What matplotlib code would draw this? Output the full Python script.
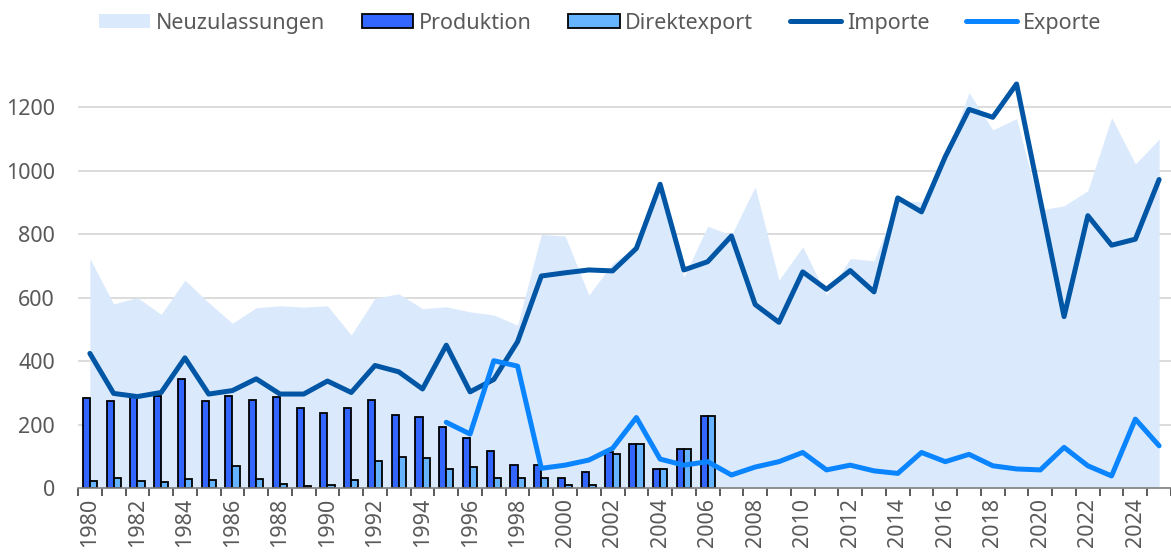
import matplotlib
matplotlib.use("Agg")
import matplotlib.pyplot as plt
import numpy as np
from matplotlib.patches import Patch
from matplotlib.lines import Line2D

years = list(range(1980, 2026))

neuzulassungen = [723, 580, 600, 547, 655, 584, 519, 568, 574, 570,
                  574, 482, 598, 612, 565, 571, 555, 545, 513, 799,
                  794, 608, 708, 760, 940, 665, 825, 797, 949, 655,
                  760, 608, 723, 716, 905, 902, 1040, 1246, 1128, 1164,
                  876, 889, 937, 1167, 1021, 1099]

importe = [424, 298, 288, 301, 410, 296, 307, 344, 296, 296,
           337, 301, 386, 366, 312, 450, 303, 342, 461, 668,
           678, 687, 684, 755, 957, 687, 713, 794, 578, 522,
           681, 626, 685, 618, 914, 870, 1044, 1193, 1168, 1273,
           907, 540, 858, 765, 784, 972]

exporte_years = list(range(1995, 2026))
exporte = [207, 170, 401, 384, 62, 72, 88, 125, 222, 91,
           72, 83, 41, 66, 83, 112, 57, 72, 54, 46,
           112, 83, 106, 70, 60, 57, 128, 70, 38, 217, 133]

bar_years = list(range(1980, 2007))
produktion = [285, 275, 290, 291, 344, 275, 291, 277, 288, 251,
              235, 253, 276, 231, 224, 192, 156, 117, 72, 72,
              31, 49, 115, 139, 61, 123, 228]
direktexport = [23, 30, 22, 18, 29, 25, 70, 29, 13, 7,
                10, 25, 85, 97, 94, 59, 67, 31, 33, 33,
                11, 11, 108, 139, 60, 123, 228]

C_AREA = "#DAEAFC"
C_PROD = "#3366FF"
C_DIR = "#66B3FF"
C_IMP = "#0055A4"
C_EXP = "#0A84FF"
C_TXT = "#595959"

plt.rcParams["font.family"] = ["Noto Sans", "DejaVu Sans"]
FS = 15.5

fig = plt.figure(figsize=(11.71, 5.52), dpi=100)
ax = fig.add_axes([78 / 1171, 1 - 488 / 552, 1 - 78 / 1171, (488 - 50) / 552])

xi = np.arange(len(years))
ax.fill_between(xi, 0, neuzulassungen, color=C_AREA, lw=0, zorder=2)

bx = np.array([years.index(y) for y in bar_years])
w = 0.30
ax.bar(bx - w / 2, produktion, width=w, color=C_PROD, edgecolor="black", linewidth=1.3, zorder=3)
ax.bar(bx + w / 2, direktexport, width=w, color=C_DIR, edgecolor="black", linewidth=1.3, zorder=3)

ax.plot(xi, importe, color=C_IMP, lw=3.6, solid_joinstyle="round", solid_capstyle="round", zorder=4)
ex = np.array([years.index(y) for y in exporte_years])
ax.plot(ex, exporte, color=C_EXP, lw=3.6, solid_joinstyle="round", solid_capstyle="round", zorder=4)

ax.set_xlim(-0.5, len(years) - 0.5)
ax.set_ylim(0, 1380)
ax.set_yticks(range(0, 1201, 200))
ax.yaxis.grid(True, color="#D9D9D9", lw=1.3, zorder=0)
ax.set_axisbelow(True)
for s in ["top", "right", "left"]:
    ax.spines[s].set_visible(False)
ax.spines["bottom"].set_color("#808080")
ax.spines["bottom"].set_linewidth(1.2)
ax.spines["bottom"].set_zorder(5)

ax.tick_params(axis="y", length=0, pad=16.5, labelsize=FS, labelcolor=C_TXT)
lab_idx = [i for i, y in enumerate(years) if y % 2 == 0]
ax.set_xticks(lab_idx)
ax.set_xticklabels([str(years[i]) for i in lab_idx], rotation=90, va="top", ha="center")
ax.tick_params(axis="x", length=0, pad=7, labelsize=FS, labelcolor=C_TXT)
ax.set_xticks(np.arange(-0.5, len(years)), minor=True)
ax.tick_params(axis="x", which="minor", length=6, width=1.2, color="#404040", direction="out")

handles = [
    Patch(facecolor=C_AREA, edgecolor="none", label="Neuzulassungen"),
    Patch(facecolor=C_PROD, edgecolor="black", linewidth=1.3, label="Produktion"),
    Patch(facecolor=C_DIR, edgecolor="black", linewidth=1.3, label="Direktexport"),
    Line2D([0], [0], color=C_IMP, lw=3.6, solid_capstyle="round", label="Importe"),
    Line2D([0], [0], color=C_EXP, lw=3.6, solid_capstyle="round", label="Exporte"),
]
leg = fig.legend(handles=handles, loc="upper left", bbox_to_anchor=(90 / 1171, 1 - 4 / 552),
                 ncol=5, frameon=False, fontsize=FS, handlelength=2.4, handleheight=0.6,
                 handletextpad=0.25, columnspacing=1.7, borderaxespad=0)
for t in leg.get_texts():
    t.set_color(C_TXT)

fig.savefig("out.png", dpi=100)
